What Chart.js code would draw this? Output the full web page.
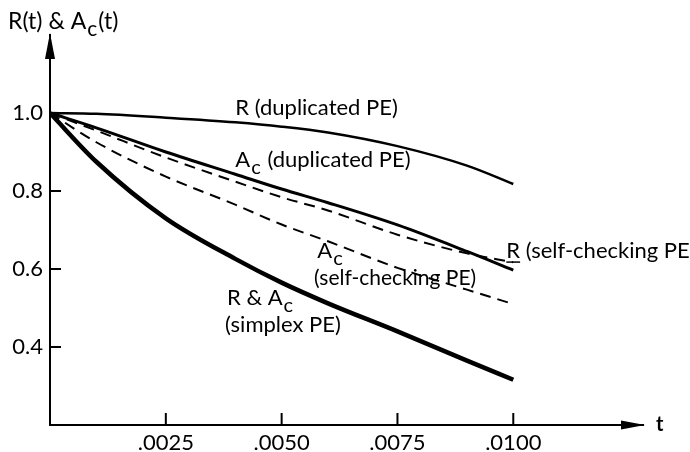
<!doctype html>
<html>
<head>
<script src="https://cdn.jsdelivr.net/npm/chart.js"></script>
<style>
  body { margin: 0; background: #fff; }
  #box { width: 690px; height: 452px; }
</style>
</head>
<body>
<div id="box"><canvas id="drawhere"></canvas></div>
<script>
  // values
  var tvals   = [0, 0.001, 0.0025, 0.004, 0.005, 0.006, 0.0075, 0.009, 0.01];
  var rdup    = [1.0, 0.998, 0.988, 0.976, 0.965, 0.950, 0.915, 0.865, 0.818];
  var acdup   = [1.0, 0.962, 0.900, 0.843, 0.805, 0.770, 0.713, 0.645, 0.597];
  var rself   = [1.0, 0.955, 0.886, 0.824, 0.784, 0.750, 0.688, 0.640, 0.617];
  var acself  = [1.0, 0.925, 0.837, 0.765, 0.714, 0.671, 0.603, 0.547, 0.510];
  var simplex = [1.0, 0.875, 0.730, 0.626, 0.565, 0.512, 0.440, 0.365, 0.316];
  var xticks  = [0.0025, 0.005, 0.0075, 0.01];
  var yticks  = [0.4, 0.6, 0.8, 1.0];

  var FONT = 'Lato';

  function pts(vals) {
    var out = [];
    for (var i = 0; i < tvals.length; i++) out.push({x: tvals[i], y: vals[i]});
    return out;
  }

  function line(vals, width, dash) {
    return {
      data: pts(vals),
      borderColor: '#000',
      borderWidth: width,
      borderDash: dash,
      pointRadius: 0,
      fill: false,
      cubicInterpolationMode: 'monotone'
    };
  }

  // curve labels, placed in data coordinates; {s:'c'} is a subscript
  var notes = [
    {t: 0.0040, v: 0.995, segs: ['R (duplicated PE)']},
    {t: 0.0040, v: 0.862, segs: ['A', {s: 'c'}, ' (duplicated PE)']},
    {t: 0.00985, v: 0.628, segs: ['R (self-checking PE)'], under: true},
    {t: 0.00577, v: 0.628, segs: ['A', {s: 'c'}]},
    {t: 0.00570, v: 0.558, segs: ['(self-checking PE)'], size: 21},
    {t: 0.00382, v: 0.508, segs: ['R & A', {s: 'c'}]},
    {t: 0.00378, v: 0.438, segs: ['(simplex PE)']}
  ];

  function rich(ctx, x, y, segs, size) {
    for (var i = 0; i < segs.length; i++) {
      var sg = segs[i];
      if (typeof sg === 'string') {
        ctx.font = size + 'px ' + FONT;
        ctx.fillText(sg, x, y);
        x += ctx.measureText(sg).width;
      } else {
        ctx.font = Math.round(size * 0.9) + 'px ' + FONT;
        ctx.fillText(sg.s, x + 1, y + 7);
        x += ctx.measureText(sg.s).width + 2;
      }
    }
    return x;
  }

  var decor = {
    id: 'decor',
    afterDraw: function(chart) {
      var ctx = chart.ctx, xs = chart.scales.x, ys = chart.scales.y;
      var a = chart.chartArea;
      ctx.save();
      ctx.fillStyle = '#000';
      ctx.strokeStyle = '#000';
      ctx.lineWidth = 2;
      // inward tick marks
      yticks.forEach(function(v) {
        var py = ys.getPixelForValue(v);
        ctx.beginPath(); ctx.moveTo(a.left, py); ctx.lineTo(a.left + 11, py); ctx.stroke();
      });
      xticks.forEach(function(v) {
        var px = xs.getPixelForValue(v);
        ctx.beginPath(); ctx.moveTo(px, a.bottom); ctx.lineTo(px, a.bottom - 12); ctx.stroke();
      });
      // arrow heads
      ctx.beginPath();
      ctx.moveTo(a.left, a.top - 2);
      ctx.lineTo(a.left - 5, a.top + 24);
      ctx.lineTo(a.left + 5, a.top + 24);
      ctx.closePath(); ctx.fill();
      ctx.beginPath();
      ctx.moveTo(a.right + 2, a.bottom);
      ctx.lineTo(a.right - 22, a.bottom - 4.5);
      ctx.lineTo(a.right - 22, a.bottom + 4.5);
      ctx.closePath(); ctx.fill();
      // axis names
      ctx.textBaseline = 'alphabetic';
      ctx.textAlign = 'left';
      rich(ctx, 8, 29, ['R(t) & A', {s: 'c'}, '(t)'], 23);
      ctx.font = 'bold 20px ' + FONT;
      ctx.fillText('t', 656, 431);
      // curve labels
      notes.forEach(function(n) {
        var px = xs.getPixelForValue(n.t), py = ys.getPixelForValue(n.v);
        var sz = n.size || 22;
        rich(ctx, px, py, n.segs, sz);
        if (n.under) {
          ctx.font = sz + 'px ' + FONT;
          var w = ctx.measureText('R').width;
          ctx.lineWidth = 1.5;
          ctx.beginPath(); ctx.moveTo(px, py + 4); ctx.lineTo(px + w, py + 4); ctx.stroke();
        }
      });
      ctx.restore();
    }
  };

  var thechart = new Chart(document.getElementById('drawhere'), {
    type: 'line',
    data: {
      datasets: [
        line(rdup, 2.5, []),
        line(acdup, 3, []),
        line(rself, 2, [11, 7]),
        line(acself, 2, [11, 7]),
        line(simplex, 4.5, [])
      ]
    },
    options: {
      responsive: true,
      maintainAspectRatio: false,
      animation: false,
      layout: {padding: {top: 35, right: 47, left: 0, bottom: 0}},
      plugins: {legend: {display: false}, tooltip: {enabled: false}},
      scales: {
        x: {
          type: 'linear',
          min: 0,
          max: 0.0128,
          afterBuildTicks: function(s) { s.ticks = xticks.map(function(v) { return {value: v}; }); },
          afterFit: function(s) { s.height = 27; },
          grid: {display: false, drawTicks: false},
          border: {display: true, color: '#000', width: 2},
          ticks: {
            autoSkip: false, maxRotation: 0, minRotation: 0, padding: 5,
            color: '#000', font: {family: FONT, size: 22},
            callback: function(v) { return v.toFixed(4).slice(1); }
          }
        },
        y: {
          type: 'linear',
          min: 0.2,
          max: 1.2,
          afterBuildTicks: function(s) { s.ticks = yticks.map(function(v) { return {value: v}; }); },
          afterFit: function(s) { s.width = 50; },
          grid: {display: false, drawTicks: false},
          border: {display: true, color: '#000', width: 2},
          ticks: {
            autoSkip: false, padding: 7,
            color: '#000', font: {family: FONT, size: 22},
            callback: function(v) { return v.toFixed(1); }
          }
        }
      }
    },
    plugins: [decor]
  });
</script>
</body>
</html>
